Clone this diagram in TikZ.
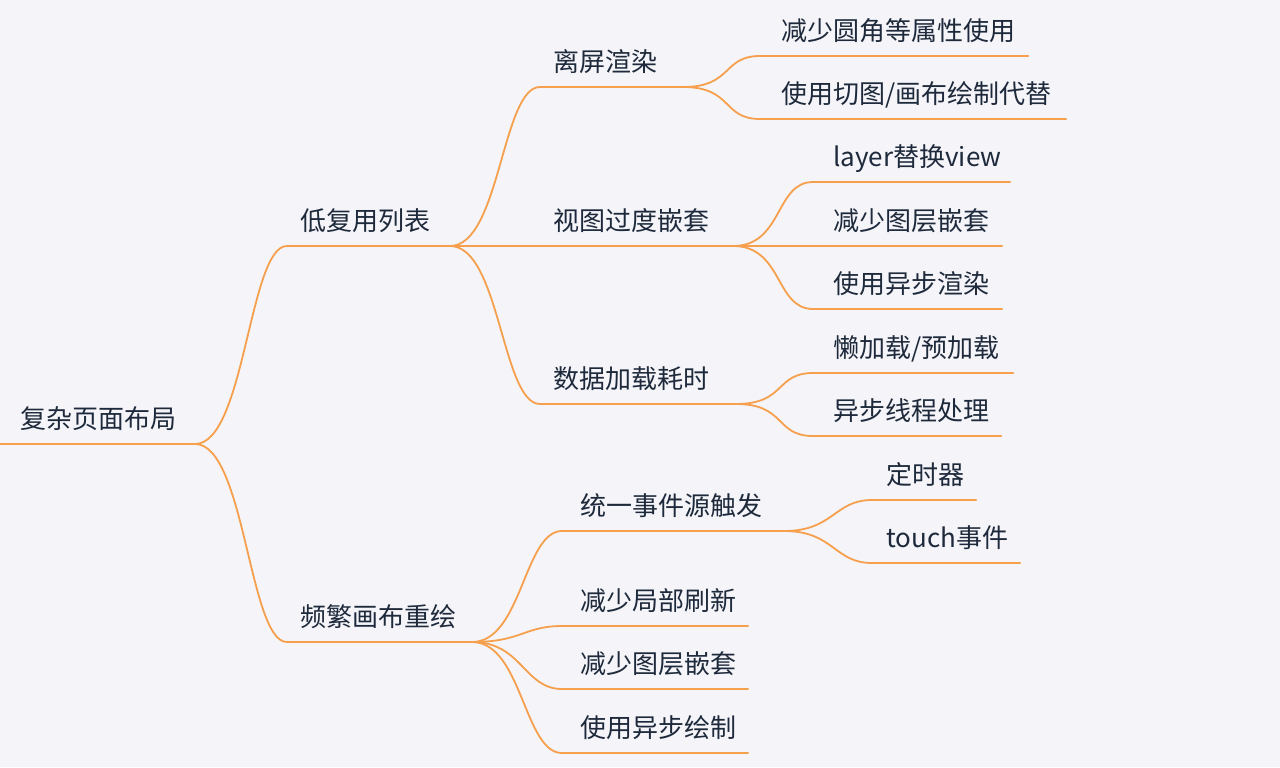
\documentclass[tikz,border=0pt]{standalone}
\usepackage{fontspec}
\setmainfont{Noto Sans CJK SC}
\definecolor{bgc}{HTML}{F4F4F9}
\definecolor{org}{HTML}{F6A04D}
\definecolor{ink}{HTML}{1E2A3B}
\begin{document}
\begin{tikzpicture}[x=0.5pt,y=-0.5pt,
  uline/.style={draw=org,line width=1pt,line cap=round},
  lnk/.style={draw=org,line width=0.9pt},
  lbl/.style={anchor=base west,inner sep=0pt,text=ink,font=\fontsize{13pt}{15pt}\selectfont}]
\fill[bgc] (0,0) rectangle (1280,767);
\useasboundingbox (0,0) rectangle (1280,767);
% coordinates
\coordinate (Rs) at (0,444);   \coordinate (Re) at (195,444);
\coordinate (As) at (287,246); \coordinate (Ae) at (450,246);
\coordinate (Bs) at (287,642); \coordinate (Be) at (472,642);
\coordinate (A1s) at (540,87);  \coordinate (A1e) at (683,87);
\coordinate (A2s) at (540,246); \coordinate (A2e) at (733,246);
\coordinate (A3s) at (540,404); \coordinate (A3e) at (736,404);
\coordinate (A11s) at (760,56);  \coordinate (A11e) at (1028,56);
\coordinate (A12s) at (760,119); \coordinate (A12e) at (1066,119);
\coordinate (A21s) at (813,182); \coordinate (A21e) at (1010,182);
\coordinate (A22s) at (813,246); \coordinate (A22e) at (1002,246);
\coordinate (A23s) at (813,309); \coordinate (A23e) at (1002,309);
\coordinate (A31s) at (813,373); \coordinate (A31e) at (1013,373);
\coordinate (A32s) at (813,436); \coordinate (A32e) at (1001,436);
\coordinate (B1s) at (562,531); \coordinate (B1e) at (784,531);
\coordinate (B2s) at (562,626); \coordinate (B2e) at (748,626);
\coordinate (B3s) at (562,689); \coordinate (B3e) at (748,689);
\coordinate (B4s) at (562,753); \coordinate (B4e) at (748,753);
\coordinate (B11s) at (872,500); \coordinate (B11e) at (976,500);
\coordinate (B12s) at (872,563); \coordinate (B12e) at (1020,563);
% labels
\node[lbl] (R) at (20,428.5) {复杂页面布局};
\node[lbl] (A) at (300,230.5) {低复用列表};
\node[lbl] (B) at (300,626.5) {频繁画布重绘};
\node[lbl] (A1) at (553,71.5) {离屏渲染};
\node[lbl] (A2) at (553,230.5) {视图过度嵌套};
\node[lbl] (A3) at (553,388.5) {数据加载耗时};
\node[lbl] (A11) at (781,40.5) {减少圆角等属性使用};
\node[lbl] (A12) at (781,103.5) {使用切图/画布绘制代替};
\node[lbl] (A21) at (833,166.5) {layer替换view};
\node[lbl] (A22) at (833,230.5) {减少图层嵌套};
\node[lbl] (A23) at (833,293.5) {使用异步渲染};
\node[lbl] (A31) at (833,357.5) {懒加载/预加载};
\node[lbl] (A32) at (833,420.5) {异步线程处理};
\node[lbl] (B1) at (580,515.5) {统一事件源触发};
\node[lbl] (B2) at (580,610.5) {减少局部刷新};
\node[lbl] (B3) at (580,673.5) {减少图层嵌套};
\node[lbl] (B4) at (580,737.5) {使用异步绘制};
\node[lbl] (B11) at (886,484.5) {定时器};
\node[lbl] (B12) at (886,547.5) {touch事件};
% underlines
\foreach \n in {R,A,B,A1,A2,A3,A11,A12,A21,A22,A23,A31,A32,B1,B2,B3,B4,B11,B12}
  \draw[uline] (\n s) -- (\n e);
% links
\foreach \p/\c in {R/A,R/B,A/A1,A/A2,A/A3,A1/A11,A1/A12,A2/A21,A2/A22,A2/A23,A3/A31,A3/A32,B/B1,B/B2,B/B3,B/B4,B1/B11,B1/B12}
  \draw[lnk] (\p e) .. controls +(50,0) and +(-38,0) .. (\c s);
\end{tikzpicture}
\end{document}
